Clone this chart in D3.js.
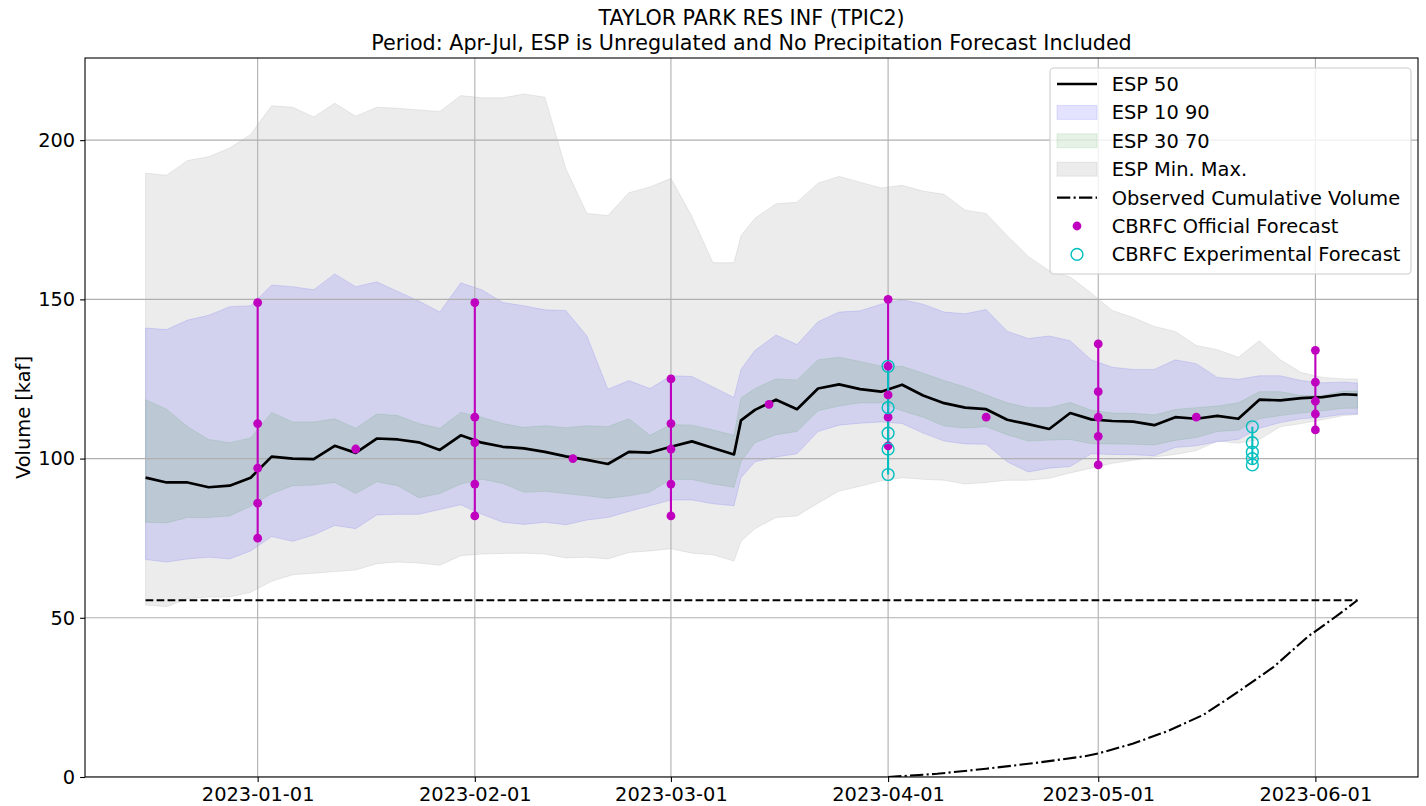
<!DOCTYPE html>
<html>
<head>
<meta charset="utf-8">
<script src="https://cdn.jsdelivr.net/npm/d3@7"></script>
<style>
body { margin: 0; background: #fff; }
svg text { font-family: "DejaVu Sans", sans-serif; fill: #000; }
</style>
</head>
<body>
<svg width="1426" height="806"></svg>
<script>
// ESP trace dates (sampled every ~3 days)
var dates = ["2022-12-16","2022-12-19","2022-12-22","2022-12-25","2022-12-28","2022-12-31",
  "2023-01-03","2023-01-06","2023-01-09","2023-01-12","2023-01-15","2023-01-18","2023-01-21","2023-01-24","2023-01-27","2023-01-30",
  "2023-02-02","2023-02-05","2023-02-08","2023-02-11","2023-02-14","2023-02-17","2023-02-20","2023-02-23","2023-02-26",
  "2023-03-01","2023-03-04","2023-03-07","2023-03-10","2023-03-11","2023-03-13","2023-03-16","2023-03-19","2023-03-22","2023-03-25","2023-03-28","2023-03-31",
  "2023-04-03","2023-04-06","2023-04-09","2023-04-12","2023-04-15","2023-04-18","2023-04-21","2023-04-24","2023-04-27","2023-04-30",
  "2023-05-03","2023-05-06","2023-05-09","2023-05-12","2023-05-15","2023-05-18","2023-05-21","2023-05-24","2023-05-27","2023-05-30",
  "2023-06-02","2023-06-05","2023-06-07"];

var espMax = [189.6,189,193.6,194.8,197.5,201.8,
  210.8,210.3,207.3,211.6,207.5,210.3,210,209.5,209,214,
  213.3,213.3,214.5,213.5,191,177,176.3,183.5,185.3,
  188,176,161.5,161.5,170,175.5,180,180.5,186.5,188.6,186.8,185,
  185.8,184,183,178,177,170,163.5,159,157,152,
  146.5,144.3,141.5,139.9,135.5,134.2,131.8,137,131,127,
  125.5,125,125];
var espMin = [54,53.5,56,56.5,56.5,58,
  61.5,63.5,64,64.5,65,67,67.5,67.2,66.5,69.5,
  70,70.2,70.3,70,68.8,69,68.5,70.5,71,
  71.7,70.3,69.8,67.8,74,78,81.5,82,86,89.8,91.3,93,
  94,93.5,93.2,92,92.5,93.2,93.2,93.8,95.5,97,
  98.5,99.5,100.5,101.3,102.5,105.5,104.8,106,110,111,
  112.2,113.5,113.8];
var esp90 = [141,140.5,143.5,145,147.7,148,
  154.5,154,153,158,154,155.5,152.5,149.5,146,155.2,
  153,149,148,146.7,146.5,138.5,121.8,124.5,122,
  126,125.8,122.5,119.2,128,134,138.8,135.8,143,146,146.4,148.5,
  149.9,148.5,146,145.5,146.8,140,137.7,138.5,137,131,
  128.7,128,128,131,129.8,125.5,124.9,126,126,124.5,
  123.8,124,123.7];
var esp70 = [118.5,115.5,110,106,105,106.5,
  114.5,111.5,111.5,112.5,109.5,114,113.5,111,109.5,114.5,
  113,111,109.8,110.3,109.7,110.3,110,112.5,107.3,
  110.7,110.5,109,107.3,119,122,125,124.7,131,131.8,130.5,129,
  129,126.8,124.5,122.5,120,117.5,116,116,117.6,115.2,
  114.3,114.2,113.7,115.4,116,116.5,117.5,121,121,119.8,
  119.8,121.2,121.2];
var esp50 = [94,92.5,92.5,91,91.5,94,
  100.6,100,99.8,104,101.8,106.3,106,105.1,102.7,107.3,
  105,103.7,103.2,102.1,100.7,99.6,98.3,102.1,101.9,
  103.7,105.4,103.3,101.3,112,115.3,118.5,115.5,122,123.3,121.8,121,
  123.2,119.8,117.4,116,115.5,112.2,110.8,109.3,114.3,112.3,
  111.8,111.6,110.5,113,112.5,113.4,112.5,118.5,118.3,119,
  119.3,120.2,120];
var esp30 = [80,79.8,81.5,81.5,82,85,
  89,91.5,91.7,92.5,89,92.7,91.5,87.7,89,92,
  93.5,92.2,89.4,89.7,89,88.3,87.5,88.3,89.5,
  93.5,93.4,92,91,99,105,107.5,108.5,115,116.5,117.5,117.5,
  115,113,110.2,109.6,110,107.5,105.5,105.8,106,104.7,
  104.6,104.5,104.3,105.7,106.6,108.5,108.9,112.5,113.5,114.3,
  115,115.8,115.8];
var esp10 = [68.3,67.5,68.5,69,68.5,71,
  75.5,74,76,79,78,82.3,82.5,82.5,84,85.5,
  82.5,80,79.3,80,79.2,80.7,81.5,83.4,85.2,
  87,87,85.8,85.2,94,99,100.5,101.5,108.5,110.5,111.1,111.5,
  111,108,105.5,104.6,104.5,99,95.8,97,97.5,101.5,
  101.3,101.2,100.9,103.5,104,105.3,106,109.5,111.3,112.5,
  113,113.9,114];

// CBRFC forecasts
var officialDates = ["2023-01-01","2023-01-15","2023-02-01","2023-02-15","2023-03-01","2023-03-15",
  "2023-04-01","2023-04-15","2023-05-01","2023-05-15","2023-06-01"];
var officialVals = [[75,86,97,111,149],[103],[82,92,105,113,149],[100],[82,92,103,111,125],[117],
  [104,113,120,129,150],[113],[98,107,113,121,136],[113],[109,114,118,124,134]];
var expDates = ["2023-04-01","2023-05-23"];
var expVals = [[95,103,108,116,129],[98,100,102,105,110]];

// observed cumulative volume
var obsDates = ["2023-04-01","2023-04-08","2023-04-15","2023-04-22","2023-04-29","2023-05-01","2023-05-06",
  "2023-05-11","2023-05-16","2023-05-21","2023-05-26","2023-05-31","2023-06-04","2023-06-07"];
var obsVals = [0,1.0,2.6,4.4,6.5,7.4,10.5,14.5,19.5,26.8,34.5,44.2,50.5,55.5];
var observedTotal = 55.5;

var yTicks = [0,50,100,150,200];
var titleLines = ["TAYLOR PARK RES INF (TPIC2)", "Period: Apr-Jul, ESP is Unregulated and No Precipitation Forecast Included"];

var plot = {left: 85, right: 1418, top: 58, bottom: 777};
var fontSize = 19.4;
var titleSize = 20.7;
var parse = d3.utcParse("%Y-%m-%d");
var days = dates.map(parse);

var ext = d3.extent(days);
var pad = (ext[1] - ext[0]) * 0.05;
var x = d3.scaleUtc()
    .domain([new Date(+ext[0] - pad), new Date(+ext[1] + pad)])
    .range([plot.left, plot.right]);
var y = d3.scaleLinear()
    .domain([0, 225.8])
    .range([plot.bottom, plot.top]);

var svg = d3.select("svg");

svg.append("clipPath").attr("id", "clip")
  .append("rect")
    .attr("x", plot.left).attr("y", plot.top)
    .attr("width", plot.right - plot.left).attr("height", plot.bottom - plot.top);

var g = svg.append("g").attr("clip-path", "url(#clip)");

function band(lo, hi) {
  return d3.area()
    .x((d, i) => x(days[i]))
    .y0((d, i) => y(lo[i]))
    .y1((d, i) => y(hi[i]))(days);
}

// fills: min/max, 10-90, 30-70
[[espMin, espMax, "gray", 0.15], [esp10, esp90, "blue", 0.11], [esp30, esp70, "green", 0.1]]
  .forEach(function(b) {
    g.append("path")
      .attr("d", band(b[0], b[1]))
      .attr("fill", b[2]).attr("fill-opacity", b[3])
      .attr("stroke", b[2]).attr("stroke-opacity", b[3]).attr("stroke-width", 1);
  });

// grid
var monthTicks = x.ticks(d3.utcMonth.every(1));
g.selectAll(".vgrid").data(monthTicks).enter().append("line")
  .attr("x1", d => x(d)).attr("x2", d => x(d))
  .attr("y1", plot.top).attr("y2", plot.bottom)
  .attr("stroke", "#b0b0b0").attr("stroke-width", 1.1);
g.selectAll(".hgrid").data(yTicks).enter().append("line")
  .attr("x1", plot.left).attr("x2", plot.right)
  .attr("y1", d => y(d)).attr("y2", d => y(d))
  .attr("stroke", "#b0b0b0").attr("stroke-width", 1.1);

// observed total (dashed) and observed cumulative (dash-dot)
g.append("line")
  .attr("x1", x(days[0])).attr("x2", x(days[days.length - 1]))
  .attr("y1", y(observedTotal)).attr("y2", y(observedTotal))
  .attr("stroke", "#000").attr("stroke-width", 2.1).attr("stroke-dasharray", "7.7,3.3");

var obsLine = d3.line().x((d, i) => x(parse(obsDates[i]))).y(d => y(d));
g.append("path")
  .attr("d", obsLine(obsVals))
  .attr("fill", "none").attr("stroke", "#000").attr("stroke-width", 2.1)
  .attr("stroke-dasharray", "13.3,3.3,2.1,3.3");

// ESP 50
var medLine = d3.line().x((d, i) => x(days[i])).y(d => y(d));
g.append("path")
  .attr("d", medLine(esp50))
  .attr("fill", "none").attr("stroke", "#000").attr("stroke-width", 2.7)
  .attr("stroke-linejoin", "round");

// forecast ranges
officialDates.forEach(function(ds, i) {
  var v = officialVals[i];
  if (v.length > 1) {
    g.append("line")
      .attr("x1", x(parse(ds))).attr("x2", x(parse(ds)))
      .attr("y1", y(d3.min(v))).attr("y2", y(d3.max(v)))
      .attr("stroke", "#bf00bf").attr("stroke-width", 2.1);
  }
});
expDates.forEach(function(ds, i) {
  var v = expVals[i];
  g.append("line")
    .attr("x1", x(parse(ds))).attr("x2", x(parse(ds)))
    .attr("y1", y(d3.min(v))).attr("y2", y(d3.max(v)))
    .attr("stroke", "#00bfbf").attr("stroke-width", 2.1);
});
officialDates.forEach(function(ds, i) {
  officialVals[i].forEach(function(v) {
    g.append("circle")
      .attr("cx", x(parse(ds))).attr("cy", y(v)).attr("r", 4.4)
      .attr("fill", "#bf00bf");
  });
});
expDates.forEach(function(ds, i) {
  expVals[i].forEach(function(v) {
    g.append("circle")
      .attr("cx", x(parse(ds))).attr("cy", y(v)).attr("r", 5.9)
      .attr("fill", "none").attr("stroke", "#00bfbf").attr("stroke-width", 1.4);
  });
});

// axes
var xAxis = svg.append("g")
  .attr("transform", "translate(0," + plot.bottom + ")")
  .call(d3.axisBottom(x).tickValues(monthTicks).tickFormat(d3.utcFormat("%Y-%m-%d"))
    .tickSize(4.9).tickPadding(4.9).tickSizeOuter(0));
var yAxis = svg.append("g")
  .attr("transform", "translate(" + plot.left + ",0)")
  .call(d3.axisLeft(y).tickValues(yTicks).tickSize(4.9).tickPadding(4.9).tickSizeOuter(0));
[xAxis, yAxis].forEach(function(a) {
  a.select(".domain").remove();
  a.selectAll("line").attr("stroke", "#000").attr("stroke-width", 1.1);
  a.selectAll("text").attr("font-size", fontSize).attr("font-family", "DejaVu Sans").attr("fill", "#000");
});

svg.append("rect")
  .attr("x", plot.left).attr("y", plot.top)
  .attr("width", plot.right - plot.left).attr("height", plot.bottom - plot.top)
  .attr("fill", "none").attr("stroke", "#000").attr("stroke-width", 1.1);

svg.append("text")
  .attr("transform", "translate(29.5," + (plot.top + plot.bottom) / 2 + ") rotate(-90)")
  .attr("text-anchor", "middle").attr("font-size", fontSize)
  .text("Volume [kaf]");

svg.selectAll(".title").data(titleLines).enter().append("text")
  .attr("x", (plot.left + plot.right) / 2)
  .attr("y", (d, i) => 24.9 + i * 24.8)
  .attr("text-anchor", "middle").attr("font-size", titleSize)
  .text(d => d);

// legend
var legendItems = ["ESP 50", "ESP 10 90", "ESP 30 70", "ESP Min. Max.", "Observed Cumulative Volume",
  "CBRFC Official Forecast", "CBRFC Experimental Forecast"];
var leg = svg.append("g");
leg.append("rect")
  .attr("x", 1050).attr("y", 68).attr("width", 361).attr("height", 206).attr("rx", 4)
  .attr("fill", "#fff").attr("fill-opacity", 0.8).attr("stroke", "#cccccc").attr("stroke-width", 1.1);
var rowY = i => 84 + i * 28.4;
legendItems.forEach(function(t, i) {
  leg.append("text").attr("x", 1111.7).attr("y", rowY(i)).attr("dy", "0.36em")
    .attr("font-size", fontSize).text(t);
});
leg.append("line").attr("x1", 1057).attr("x2", 1097).attr("y1", rowY(0)).attr("y2", rowY(0))
  .attr("stroke", "#000").attr("stroke-width", 2.7);
[["blue", 0.11], ["green", 0.1], ["gray", 0.15]].forEach(function(p, j) {
  leg.append("rect").attr("x", 1057).attr("y", rowY(j + 1) - 7).attr("width", 40).attr("height", 14)
    .attr("fill", p[0]).attr("fill-opacity", p[1]).attr("stroke", p[0]).attr("stroke-opacity", p[1]);
});
leg.append("line").attr("x1", 1057).attr("x2", 1097).attr("y1", rowY(4)).attr("y2", rowY(4))
  .attr("stroke", "#000").attr("stroke-width", 2.1).attr("stroke-dasharray", "13.3,3.3,2.1,3.3");
leg.append("circle").attr("cx", 1077).attr("cy", rowY(5)).attr("r", 4.4).attr("fill", "#bf00bf");
leg.append("circle").attr("cx", 1077).attr("cy", rowY(6)).attr("r", 5.9)
  .attr("fill", "none").attr("stroke", "#00bfbf").attr("stroke-width", 1.4);
</script>
</body>
</html>
